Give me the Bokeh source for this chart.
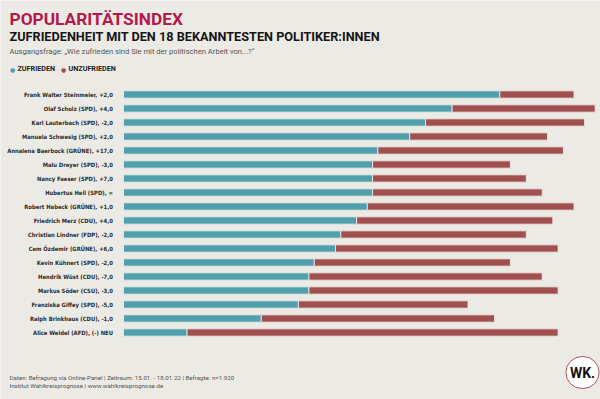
from bokeh.plotting import figure
from bokeh.models import Range1d, Label, ColumnDataSource
from bokeh.core.properties import value
from bokeh.embed import file_html
from bokeh.resources import INLINE

names = [
    "Frank Walter Steinmeier, +2,0",
    "Olaf Scholz (SPD), +4,0",
    "Karl Lauterbach (SPD), -2,0",
    "Manuela Schwesig (SPD), +2,0",
    "Annalena Baerbock (GRÜNE), +17,0",
    "Malu Dreyer (SPD), -3,0",
    "Nancy Faeser (SPD), +7,0",
    "Hubertus Heil (SPD), =",
    "Robert Habeck (GRÜNE), +1,0",
    "Friedrich Merz (CDU), +4,0",
    "Christian Lindner (FDP), -2,0",
    "Cem Özdemir (GRÜNE), +6,0",
    "Kevin Kühnert (SPD), -2,0",
    "Hendrik Wüst (CDU), -7,0",
    "Markus Söder (CSU), -3,0",
    "Franziska Giffey (SPD), -5,0",
    "Ralph Brinkhaus (CDU), -1,0",
    "Alice Weidel (AFD), (-) NEU",
]
zufrieden = [71, 62, 57, 54, 48, 47, 47, 47, 46, 44, 41, 40, 36, 35, 35, 33, 26, 12]
unzufrieden = [14, 27, 30, 26, 35, 26, 29, 32, 39, 37, 35, 42, 37, 44, 47, 32, 44, 70]
legend_labels = ["ZUFRIEDEN", "UNZUFRIEDEN"]

TEAL = "#4fa0ac"
RED = "#a0504f"
BG = "#eceae5"
FONT = "Roboto"
NFONT = "DejaVu Sans Condensed"

idx = list(range(len(names)))
total = [z + u for z, u in zip(zufrieden, unzufrieden)]
src = ColumnDataSource(dict(y=idx, name=names, zuf=zufrieden, tot=total,
                            lx=[-2.0] * len(names), zero=[0] * len(names)))

W, H = 600, 399
# x: 0 -> image px 123, 5.3 px per point ; y: row i -> image px 94 + 14 i
p = figure(width=W, height=H, output_backend="svg", toolbar_location=None,
           x_range=Range1d((0 - 123) / 5.3, (600 - 123) / 5.3),
           y_range=Range1d((399 - 94) / 14, (0 - 94) / 14),
           min_border=0, background_fill_color=BG, border_fill_color=BG,
           outline_line_color=None)
p.axis.visible = False
p.grid.visible = False

p.hbar(y="y", left="zero", right="zuf", height=0.52, source=src,
       fill_color=TEAL, line_color="#f3f1ed", line_width=0.8)
p.hbar(y="y", left="zuf", right="tot", height=0.52, source=src,
       fill_color=RED, line_color="#f3f1ed", line_width=0.8)

p.text(x="lx", y="y", text="name", source=src, text_align="right",
       text_baseline="middle", text_font=value(NFONT), text_font_style="bold",
       text_font_size="5.85px", text_color="#2a2a2a")

def sy(img_y):
    return H - img_y

p.add_layout(Label(x=9, y=sy(28), x_units="screen", y_units="screen",
                   text="POPULARITÄTSINDEX", text_font=FONT, text_font_style="bold",
                   text_font_size="17.3px", text_color="#b3194b"))
p.add_layout(Label(x=9, y=sy(43), x_units="screen", y_units="screen",
                   text="ZUFRIEDENHEIT MIT DEN 18 BEKANNTESTEN POLITIKER:INNEN",
                   text_font=FONT, text_font_style="bold",
                   text_font_size="12.7px", text_color="#151515"))
p.add_layout(Label(x=9, y=sy(55), x_units="screen", y_units="screen",
                   text="Ausgangsfrage: \u201eWie zufrieden sind Sie mit der politischen Arbeit von...?\u201c",
                   text_font=FONT, text_font_size="7.6px", text_color="#555555"))

# legend
p.add_layout(Label(x=12, y=sy(69), x_units="screen", y_units="screen",
                   text="\u25cf", text_font="DejaVu Sans", text_font_size="6px",
                   text_color=TEAL, text_align="center", text_baseline="middle"))
p.add_layout(Label(x=17, y=sy(72), x_units="screen", y_units="screen",
                   text=legend_labels[0], text_font=FONT, text_font_style="bold",
                   text_font_size="7.2px", text_color="#222222"))
p.add_layout(Label(x=63, y=sy(69), x_units="screen", y_units="screen",
                   text="\u25cf", text_font="DejaVu Sans", text_font_size="6px",
                   text_color=RED, text_align="center", text_baseline="middle"))
p.add_layout(Label(x=68, y=sy(72), x_units="screen", y_units="screen",
                   text=legend_labels[1], text_font=FONT, text_font_style="bold",
                   text_font_size="7.2px", text_color="#222222"))

p.add_layout(Label(x=9, y=sy(381.5), x_units="screen", y_units="screen",
                   text="Daten: Befragung via Online-Panel | Zeitraum: 15.01. - 18.01.22 | Befragte: n=1.920",
                   text_font=FONT, text_font_size="6.2px", text_color="#555555"))
p.add_layout(Label(x=9, y=sy(389.5), x_units="screen", y_units="screen",
                   text="Institut Wahlkreisprognose | www.wahlkreisprognose.de",
                   text_font=FONT, text_font_size="6.2px", text_color="#555555"))

p.add_layout(Label(x=582, y=sy(372), x_units="screen", y_units="screen",
                   text="WK.", text_font=FONT, text_font_style="bold",
                   text_font_size="14px", text_color="#111111",
                   text_align="center", text_baseline="middle",
                   background_fill_color="white", border_line_color="#b05060",
                   border_line_width=1, border_radius=16, padding=(4, 8)))

open("out.html", "w").write(file_html(p, INLINE))
